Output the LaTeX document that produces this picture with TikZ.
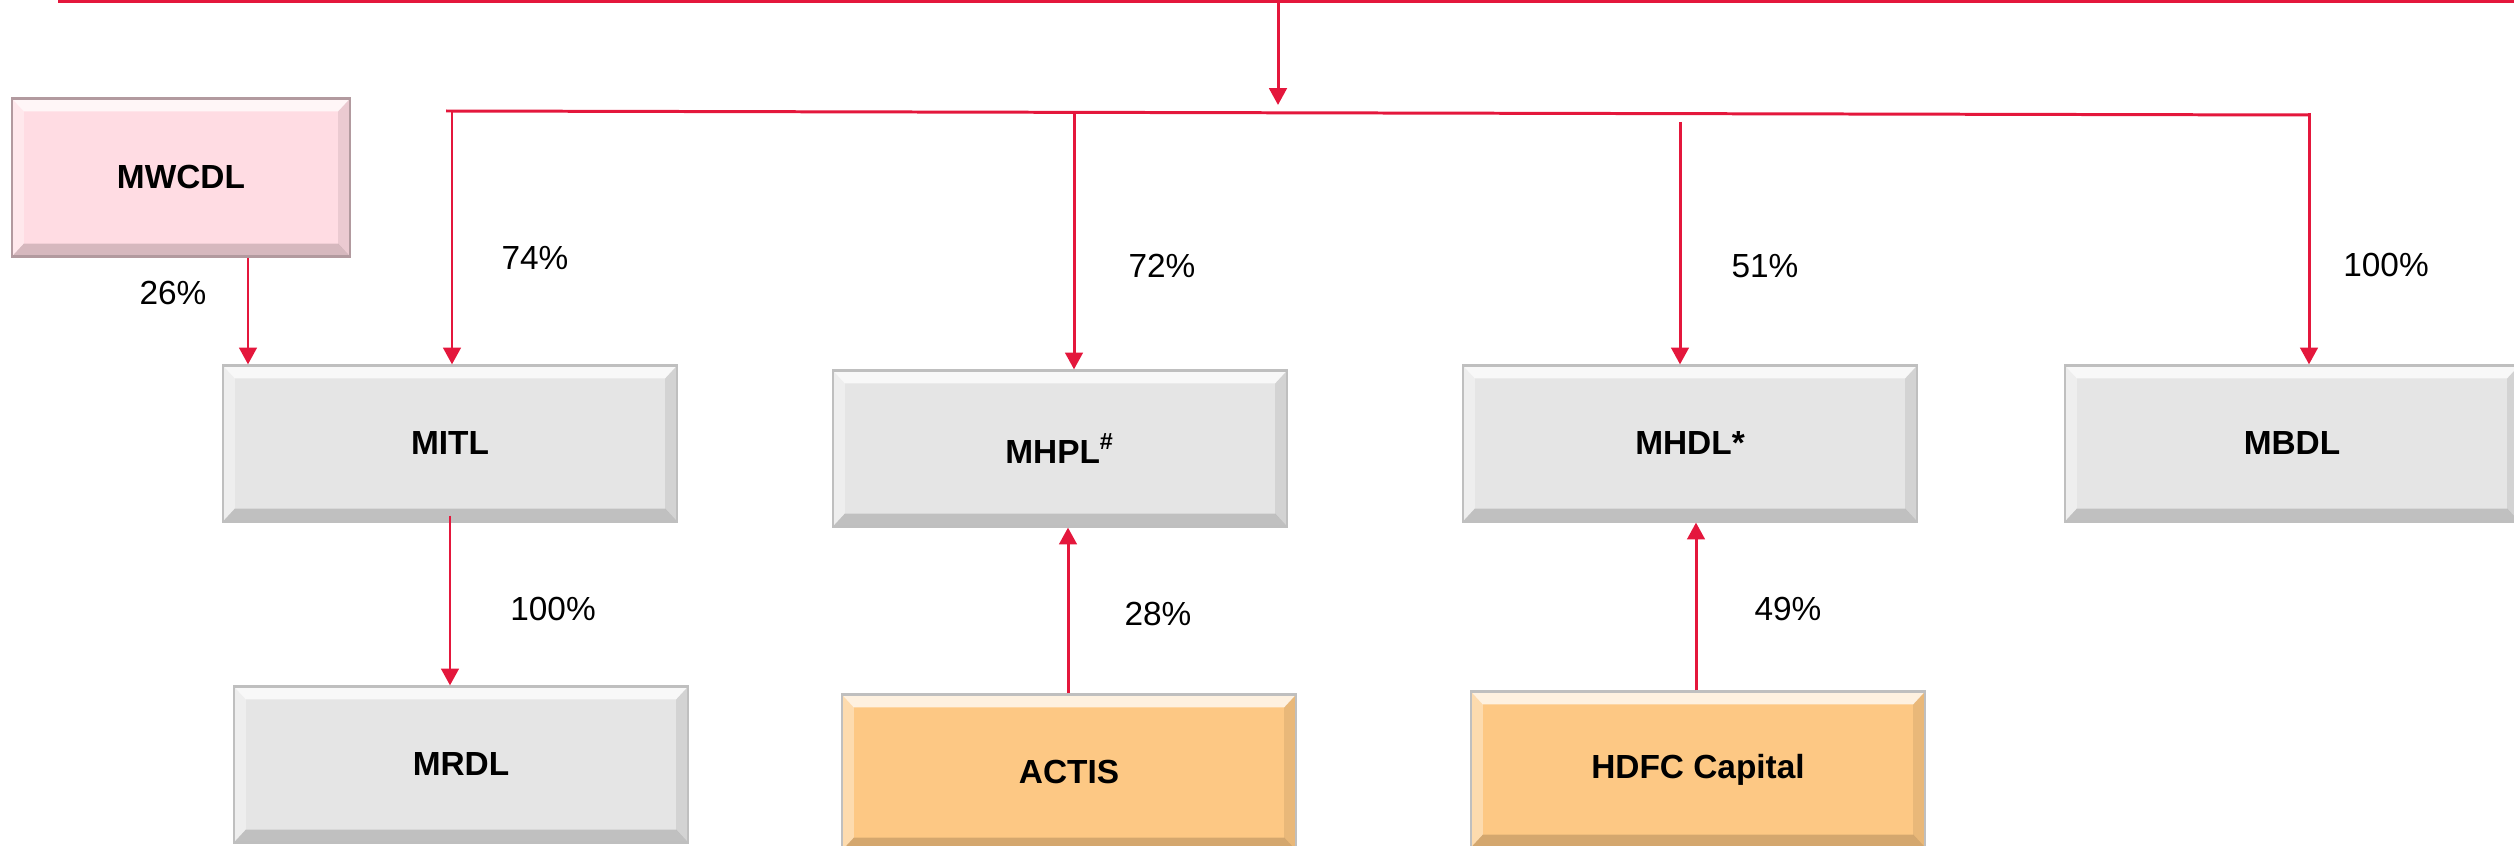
\documentclass[tikz,border=0pt]{standalone}
\usepackage{fontspec}
\setmainfont{Liberation Sans}
\usetikzlibrary{arrows.meta}

\definecolor{rojo}{HTML}{E4173C}
\definecolor{gris}{HTML}{E5E5E5}
\definecolor{rosa}{HTML}{FFDCE3}
\definecolor{naranja}{HTML}{FDC884}

\tikzset{
	bisel/.style={path picture={
		\coordinate (nw) at (path picture bounding box.north west);
		\coordinate (ne) at (path picture bounding box.north east);
		\coordinate (sw) at (path picture bounding box.south west);
		\coordinate (se) at (path picture bounding box.south east);
		\fill[white,opacity=.75] (nw) -- (ne) -- ([shift={(-.12cm,-.13cm)}]ne) -- ([shift={(.12cm,-.13cm)}]nw) -- cycle;
		\fill[white,opacity=.35] (nw) -- ([shift={(.12cm,-.13cm)}]nw) -- ([shift={(.12cm,.13cm)}]sw) -- (sw) -- cycle;
		\fill[black,opacity=.08] (ne) -- ([shift={(-.12cm,-.13cm)}]ne) -- ([shift={(-.12cm,.13cm)}]se) -- (se) -- cycle;
		\fill[black,opacity=.16] (sw) -- ([shift={(.12cm,.13cm)}]sw) -- ([shift={(-.12cm,.13cm)}]se) -- (se) -- cycle;
	}},
	caja/.style={draw=black!25, line width=.6pt, fill=gris, bisel,
		minimum width=4.54cm, minimum height=1.56cm, inner sep=0pt,
		font=\fontsize{9.5}{11}\selectfont\bfseries},
	socio/.style={caja, fill=naranja},
	enlace/.style={rojo, line width=.85pt, -{Triangle[length=4.8pt,width=5pt]}},
	linea/.style={rojo, line width=.85pt},
	pct/.style={font=\fontsize{9.5}{11}\selectfont}
}

\begin{document}
\begin{tikzpicture}[x=0.01cm, y=-0.01cm]
	\useasboundingbox (0,0) rectangle (2514,846);

	% lineas de arriba
	\coordinate (izq) at (58,1.5);
	\coordinate (der) at (2514,1.5);
	\coordinate (centro) at (1278,1.5);
	\coordinate (barraI) at (446,111);
	\coordinate (barraD) at (2309,115);
	\draw[linea] (izq) -- (der);
	\draw[linea] (barraI) -- (barraD);
	\draw[enlace] (centro) -- (1278,105);

	% cajas
	\node[caja, fill=rosa, draw=rosa!70!black, minimum width=3.38cm, minimum height=1.58cm] (mwcdl) at (181,177.5) {MWCDL};
	\node[caja] (mitl) at (450,443.5) {MITL};
	\node[caja] (mhpl) at (1060,448.5) {MHPL\textsuperscript{\#}};
	\node[caja] (mhdl) at (1690,443.5) {MHDL*};
	\node[caja] (mbdl) at (2292,443.5) {MBDL};
	\node[caja] (mrdl) at (461,764.5) {MRDL};
	\node[socio] (actis) at (1069,772.5) {ACTIS};
	\node[socio] (hdfc) at (1698,769.5) {HDFC Capital};

	% flechas
	\coordinate (d1) at (452,111);
	\coordinate (d2) at (1074,112);
	\coordinate (d3) at (1680,122);
	\coordinate (d4) at (2309,113);
	\draw[enlace] (d1) -- (d1 |- mitl.north);
	\draw[enlace] (d2) -- (d2 |- mhpl.north);
	\draw[enlace] (d3) -- (d3 |- mhdl.north);
	\draw[enlace] (d4) -- (d4 |- mbdl.north);
	\draw[enlace] (248,0 |- mwcdl.south) -- (248,0 |- mitl.north);
	\draw[enlace] ([yshift=2pt]mitl.south) -- (mitl.south |- mrdl.north);
	\draw[enlace] (actis.north -| 1068,0) -- (mhpl.south -| 1068,0);
	\draw[enlace] (hdfc.north -| 1696,0) -- (mhdl.south -| 1696,0);

	% porcentajes
	\node[pct] (p74) at (535,258) {74\%};
	\node[pct] (p72) at (1162,266) {72\%};
	\node[pct] (p51) at (1765,266) {51\%};
	\node[pct] (p100b) at (2386,265) {100\%};
	\node[pct] (p26) at (173,293) {26\%};
	\node[pct] (p100r) at (553,609) {100\%};
	\node[pct] (p28) at (1158,614) {28\%};
	\node[pct] (p49) at (1788,609) {49\%};
\end{tikzpicture}
\end{document}
